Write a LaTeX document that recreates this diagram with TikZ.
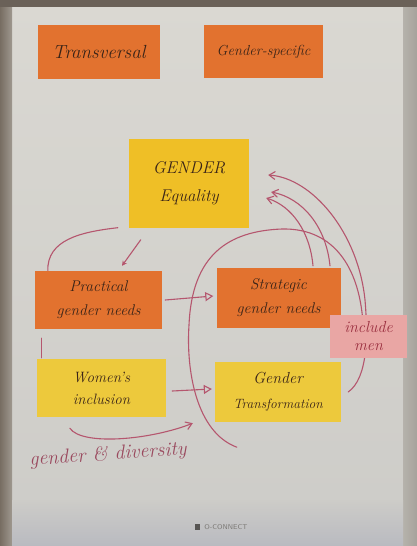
\documentclass[tikz,border=0pt]{standalone}
\usetikzlibrary{arrows.meta,calc}
\pgfdeclarelayer{bg}
\pgfdeclarelayer{lines}
\pgfsetlayers{bg,lines,main}
\definecolor{papertop}{HTML}{DAD8D2}
\definecolor{paperbot}{HTML}{CDCCC8}
\definecolor{edgeL}{HTML}{776D62}
\definecolor{edgeT}{HTML}{6A6158}
\definecolor{edgeR}{HTML}{A6A29B}
\definecolor{shadow}{HTML}{B9BAC0}
\definecolor{orangenote}{HTML}{E2722F}
\definecolor{goldnote}{HTML}{EFBF26}
\definecolor{yellownote}{HTML}{EDC93C}
\definecolor{pinknote}{HTML}{E9A6A4}
\definecolor{ink}{HTML}{3A2418}
\definecolor{redink}{HTML}{9B3040}
\definecolor{pen}{HTML}{B5566E}
\definecolor{logo}{HTML}{7C7A76}
\begin{document}
\begin{tikzpicture}[x=1pt,y=-1pt,
  note/.style={rectangle, inner sep=0pt, text=ink, align=center},
  conn/.style={draw=pen, line width=1.1pt, line cap=round},
  openhead/.style={-{Triangle[open,length=8pt,width=9pt,line width=1.1pt]}},
  barbhead/.style={-{Straight Barb[length=6pt,width=8pt,line width=1.1pt]}}]
\useasboundingbox (0,0) rectangle (417,546);
\begin{pgfonlayer}{bg}
  \shade[top color=papertop, bottom color=paperbot] (0,0) rectangle (417,546);
  \shade[left color=edgeL, right color=edgeL!60!papertop] (0,0) rectangle (12,546);
  \fill[edgeT] (0,0) rectangle (417,7);
  \shade[left color=edgeR!70!papertop, right color=edgeR] (403,7) rectangle (417,546);
  \shade[top color=paperbot, bottom color=shadow] (12,500) rectangle (403,546);
\end{pgfonlayer}

% sticky notes
\node[note, fill=orangenote, minimum width=122, minimum height=54,
  font=\itshape\fontsize{19}{22}\selectfont] (trans) at (99,52) {Transversal};
\node[note, fill=orangenote, minimum width=119, minimum height=53,
  font=\itshape\fontsize{14.5}{18}\selectfont] (gspec) at (263.5,51.5) {Gender-specific};
\node[note, fill=goldnote, minimum width=120, minimum height=89,
  font=\itshape\fontsize{17}{28}\selectfont] (ge) at (189,183) {GENDER\\Equality};
\node[note, fill=orangenote, minimum width=127, minimum height=58,
  font=\itshape\fontsize{15.5}{24}\selectfont] (prac) at (98.5,300) {Practical\\gender needs};
\node[note, fill=orangenote, minimum width=124, minimum height=60,
  font=\itshape\fontsize{15.5}{24}\selectfont] (strat) at (278.5,298) {Strategic\\gender needs};
\node[note, fill=yellownote, minimum width=129, minimum height=58,
  font=\itshape\fontsize{15}{22}\selectfont] (women) at (101.5,388) {Women's\\inclusion};
\node[note, fill=yellownote, minimum width=126, minimum height=60,
  font=\itshape\fontsize{13.5}{25}\selectfont] (gt) at (278,392)
  {{\fontsize{16}{25}\selectfont Gender}\\Transformation};
\node[note, fill=pinknote, text=redink, minimum width=77, minimum height=43,
  font=\itshape\fontsize{16}{18}\selectfont] (men) at (368.5,336.5) {include\\men};

% handwritten label and logo
\node[text=pen!85!black, font=\itshape\fontsize{20}{24}\selectfont, rotate=4, inner sep=0pt] (gd) at (108,455) {gender \& diversity};
\node[text=logo, font=\sffamily\fontsize{7}{8}\selectfont, inner sep=0pt] (brand) at (226,527) {O-CONNECT};
\fill[logo!70!black] ($(brand.west)+(-9,-3)$) rectangle ($(brand.west)+(-4,3)$);

% connectors
\begin{pgfonlayer}{lines}
  % Gender Equality -> Practical
  \draw[conn, -{Stealth[length=5pt,width=5pt]}] ($(ge.south west)+(12,12)$) -- ($(prac.north)+(23.5,-5)$);
  % Practical -> Gender Equality (plain curve)
  \draw[conn] ($(prac.north west)+(13,0)$) .. controls (47,240) and (80,232) .. ($(ge.south west)+(-11,0)$);
  % Practical -- Women's inclusion
  \draw[conn] ($(prac.south west)+(7,9)$) -- ($(women.north west)+(5,-1)$);
  % Practical -> Strategic
  \draw[conn, openhead] ($(prac.east)+(3,0)$) -- ($(strat.west)+(-3,-2)$);
  % Women's inclusion -> Gender Transformation
  \draw[conn, openhead] ($(women.east)+(6,3)$) -- ($(gt.west)+(-3,-3)$);
  % big arc from Gender Transformation up and over to include men
  \draw[conn] ($(gt.south west)+(22,25)$) .. controls (196,432) and (186,370) .. (189,325)
     .. controls (192,255) and (228,231) .. (282,229)
     .. controls (330,228) and (357,262) .. ($(men.north)+(-6,2)$);
  % Gender Transformation -> include men -> Gender Equality
  \draw[conn, barbhead] ($(gt.east)+(7,0)$) .. controls (368,378) and (368,335) .. (365,300)
     .. controls (358,232) and (312,178) .. ($(ge.east)+(19,-8)$);
  % Strategic -> Gender Equality (two arrows)
  \draw[conn, barbhead] ($(strat.north)+(34.5,-2)$) .. controls (310,232) and (292,206) .. ($(ge.east)+(17,15)$);
  \draw[conn, barbhead] ($(strat.north)+(51.5,-2)$) .. controls (326,226) and (302,198) .. ($(ge.east)+(22,9)$);
  % gender & diversity swoosh
  \draw[conn, barbhead] ($(women.south west)+(33,11)$) .. controls (82,446) and (150,440) .. ($(gt.south west)+(-22,1)$);
\end{pgfonlayer}
\end{tikzpicture}
\end{document}
